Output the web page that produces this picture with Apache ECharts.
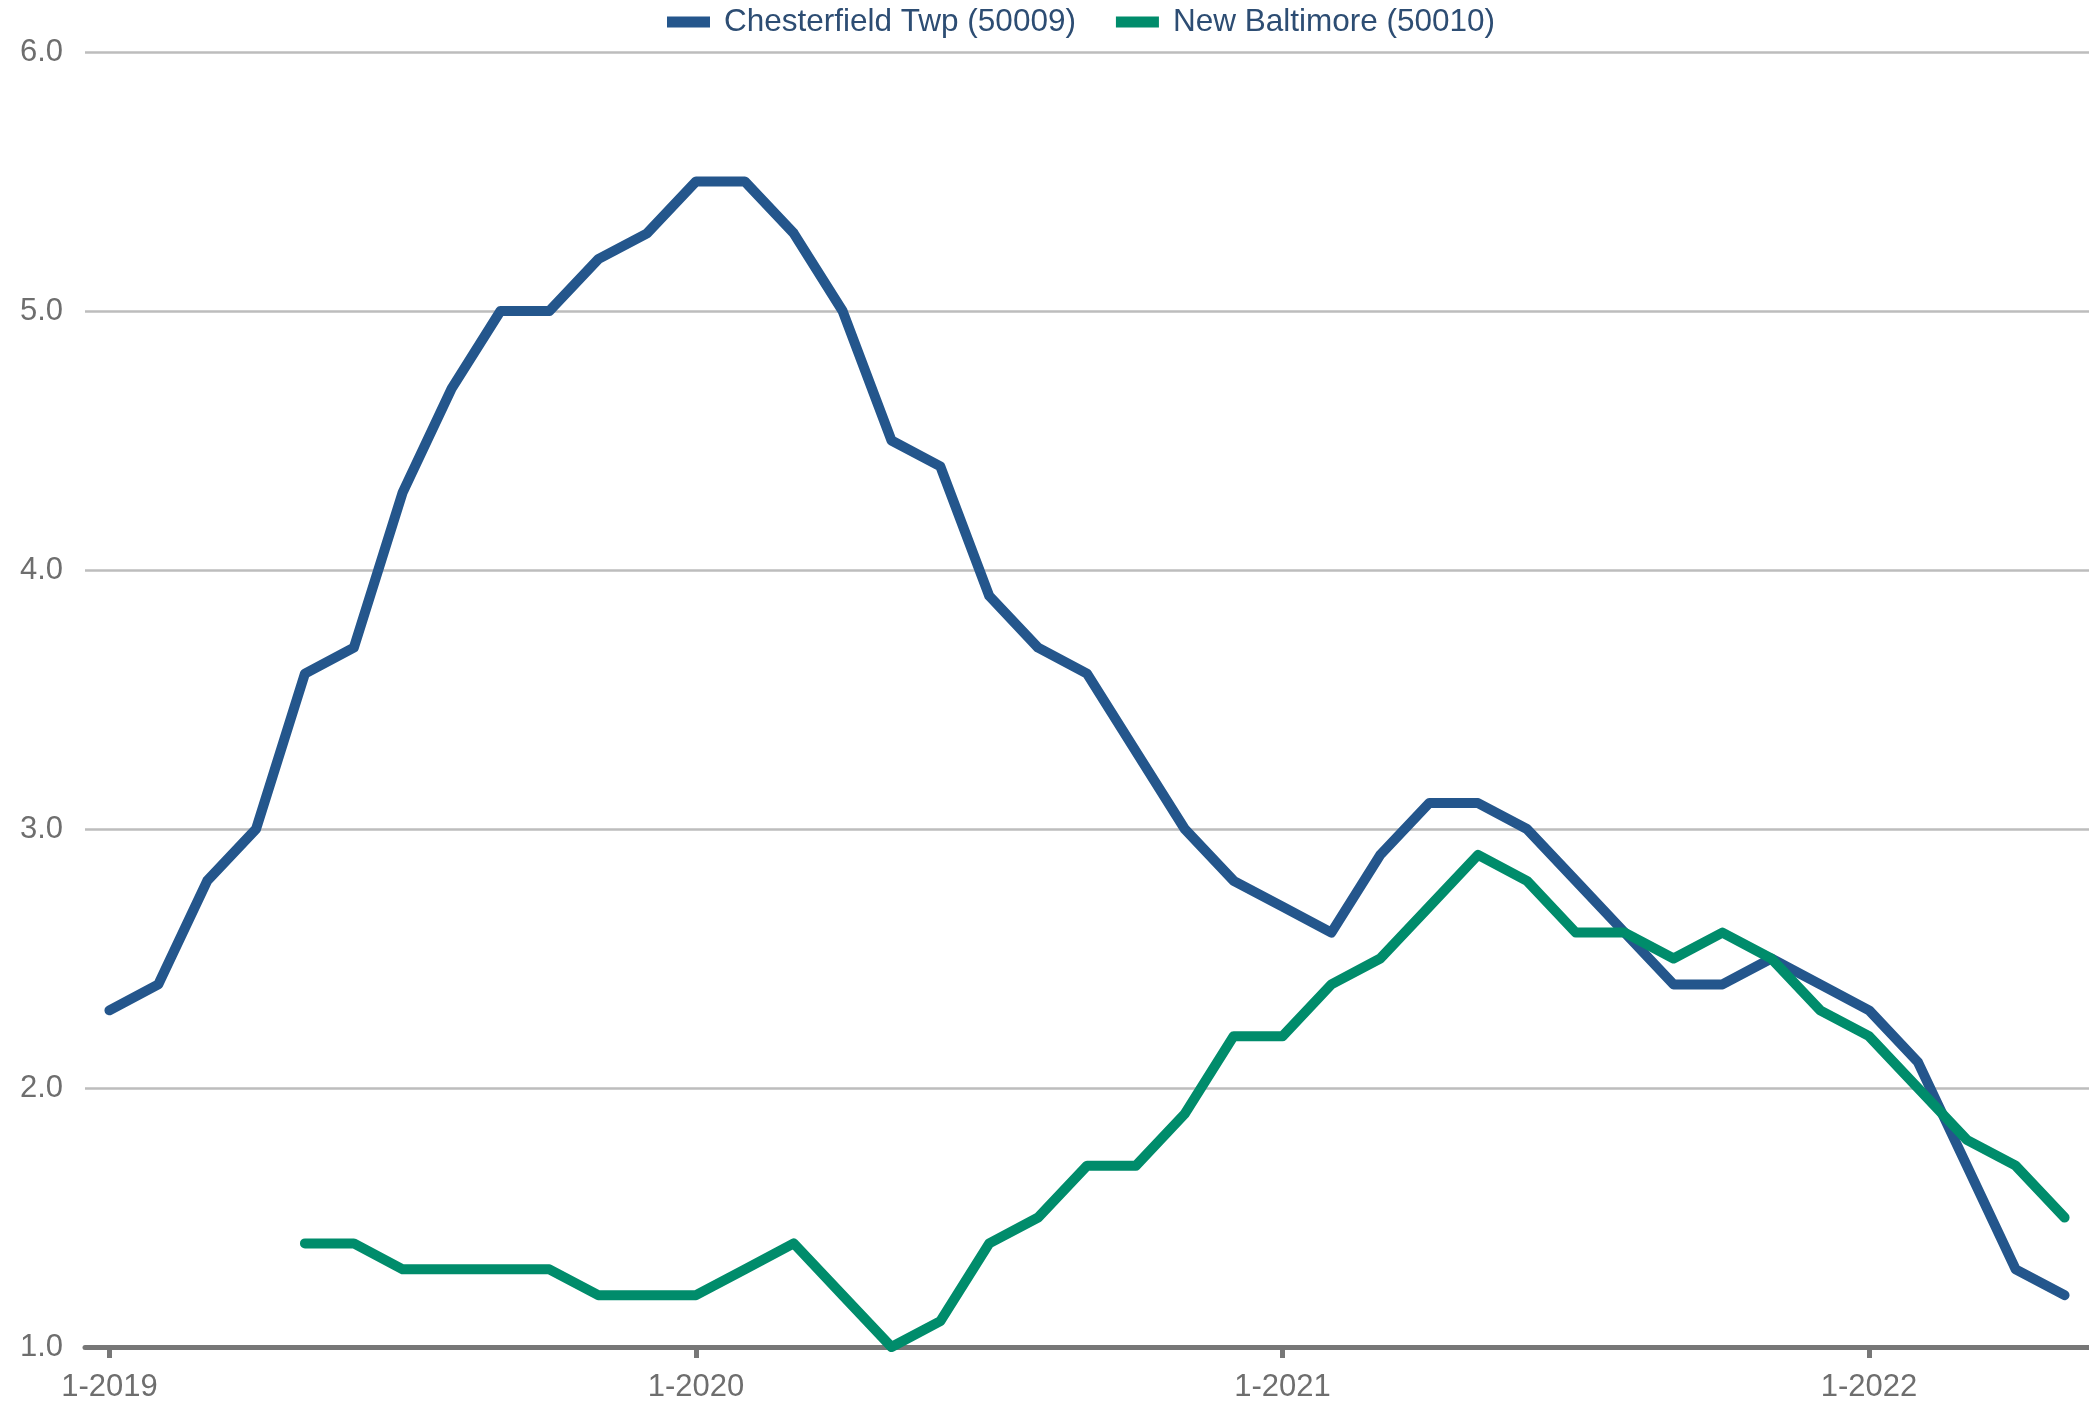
<!DOCTYPE html>
<html>
<head>
<meta charset="utf-8">
<style>html,body{margin:0;padding:0;background:#fff;}#c{width:2089px;height:1406px;}</style>
<script src="https://cdn.jsdelivr.net/npm/echarts@6/dist/echarts.min.js"></script>
</head>
<body>
<div id="c"></div>
<script>
const categories = [
  "1-2019","2-2019","3-2019","4-2019","5-2019","6-2019","7-2019","8-2019","9-2019","10-2019","11-2019","12-2019",
  "1-2020","2-2020","3-2020","4-2020","5-2020","6-2020","7-2020","8-2020","9-2020","10-2020","11-2020","12-2020",
  "1-2021","2-2021","3-2021","4-2021","5-2021","6-2021","7-2021","8-2021","9-2021","10-2021","11-2021","12-2021",
  "1-2022","2-2022","3-2022","4-2022","5-2022"
];
const chesterfield = [
  2.3,2.4,2.8,3.0,3.6,3.7,4.3,4.7,5.0,5.0,5.2,5.3,
  5.5,5.5,5.3,5.0,4.5,4.4,3.9,3.7,3.6,3.3,3.0,2.8,
  2.7,2.6,2.9,3.1,3.1,3.0,2.8,2.6,2.4,2.4,2.5,2.4,
  2.3,2.1,1.7,1.3,1.2
];
const newBaltimore = [
  null,null,null,null,1.4,1.4,1.3,1.3,1.3,1.3,1.2,1.2,
  1.2,1.3,1.4,1.2,1.0,1.1,1.4,1.5,1.7,1.7,1.9,2.2,
  2.2,2.4,2.5,2.7,2.9,2.8,2.6,2.6,2.5,2.6,2.5,2.3,
  2.2,2.0,1.8,1.7,1.5
];
const seriesNames = ["Chesterfield Twp (50009)", "New Baltimore (50010)"];
const yTicks = [1, 2, 3, 4, 5, 6];

const chart = echarts.init(document.getElementById('c'));
chart.setOption({
  animation: false,
  color: ['#24568c', '#008c6b'],
  legend: {
    left: 662, top: 1,
    icon: 'rect',
    itemWidth: 43, itemHeight: 11, itemGap: 40,
    textStyle: { fontFamily: 'Liberation Sans, Arial, sans-serif', fontSize: 31.5, color: '#2d4d73', padding: [0,0,0,9] },
    data: seriesNames
  },
  grid: { left: 85, right: 0, top: 52, bottom: 59, containLabel: false },
  xAxis: {
    type: 'category',
    data: categories,
    boundaryGap: true,
    axisLine: { lineStyle: { color: '#777', width: 5 } },
    axisTick: { show: true, alignWithLabel: true, interval: 11, length: 11, lineStyle: { color: '#777', width: 5 } },
    axisLabel: { interval: 11, margin: 25, fontFamily: 'Liberation Sans, Arial, sans-serif', fontSize: 31, color: '#6e6e6e' },
    splitLine: { show: false }
  },
  yAxis: {
    type: 'value',
    min: yTicks[0], max: yTicks[yTicks.length - 1], interval: 1,
    axisLine: { show: false },
    axisTick: { show: false },
    axisLabel: { margin: 22, formatter: v => v.toFixed(1), fontFamily: 'Liberation Sans, Arial, sans-serif', fontSize: 31, color: '#6e6e6e' },
    splitLine: { lineStyle: { color: '#bdbdbd', width: 2.5 } }
  },
  series: [
    { name: seriesNames[0], type: 'line', data: chesterfield, showSymbol: false, symbol: 'none',
      lineStyle: { width: 10, cap: 'round', join: 'round' }, z: 3 },
    { name: seriesNames[1], type: 'line', data: newBaltimore, showSymbol: false, symbol: 'none',
      lineStyle: { width: 10, cap: 'round', join: 'round' }, z: 4 }
  ]
});
</script>
</body>
</html>
